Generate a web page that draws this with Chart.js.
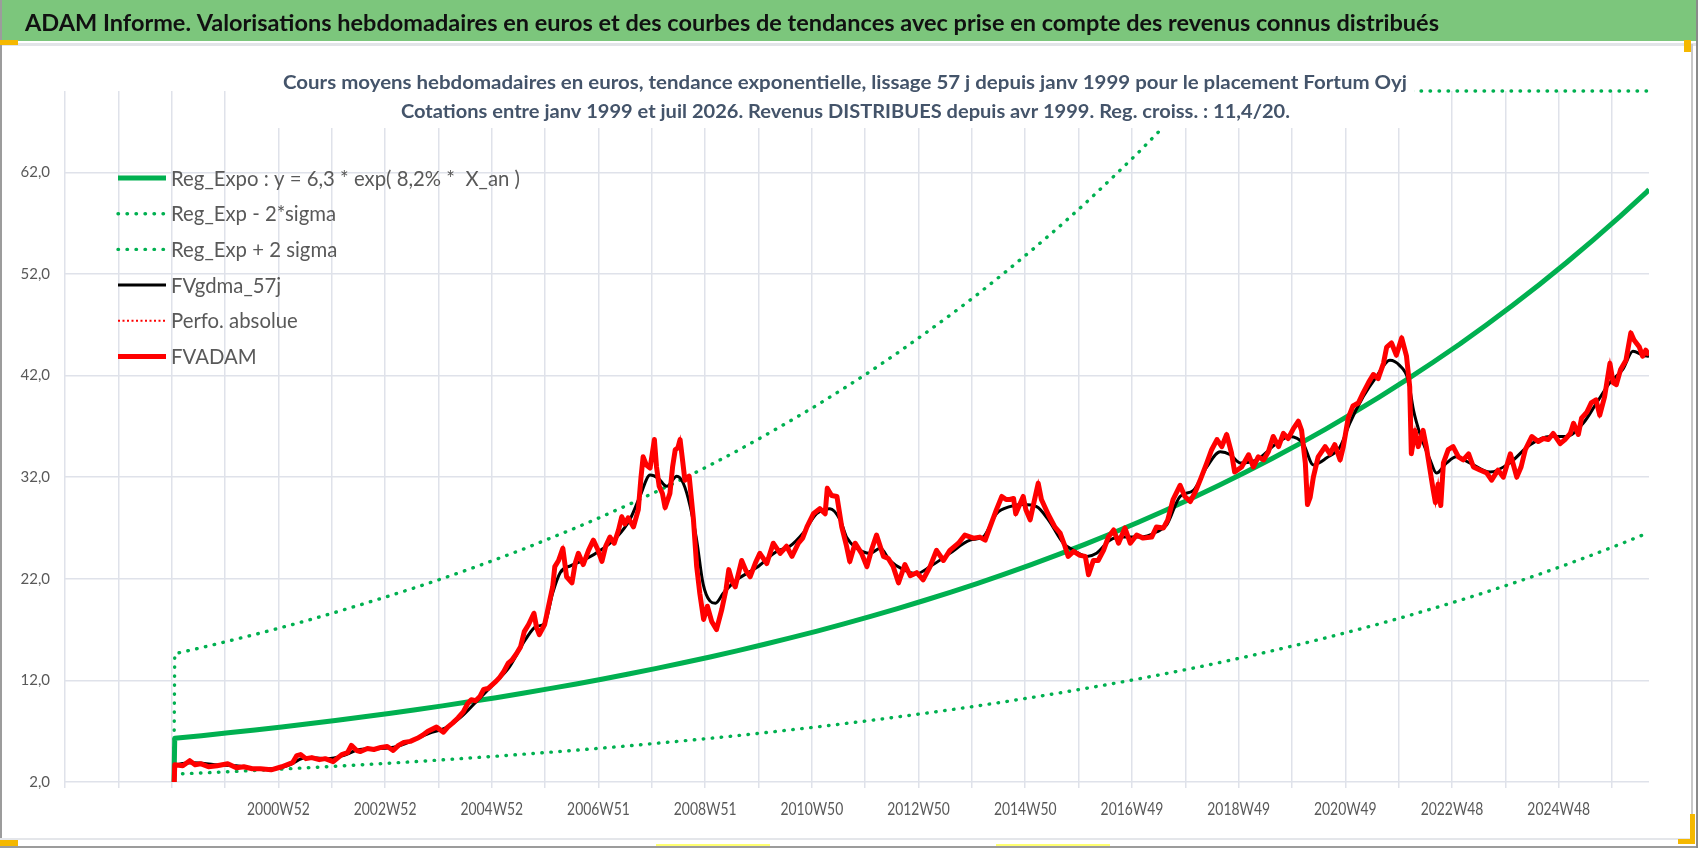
<!DOCTYPE html>
<html>
<head>
<meta charset="utf-8">
<script src="https://cdn.jsdelivr.net/npm/chart.js@4.4.1/dist/chart.umd.min.js"></script>
<style>
  html, body { margin: 0; padding: 0; background: #fff; }
  #wrap { width: 1698px; height: 848px; }
</style>
</head>
<body>
<div id="wrap"><canvas id="chart" width="1698" height="848"></canvas></div>
<script>
// Texts
const TITLE = 'ADAM Informe. Valorisations hebdomadaires en euros et des courbes de tendances avec prise en compte des revenus connus distribués';
const SUBTITLE_1 = 'Cours moyens hebdomadaires en euros, tendance exponentielle, lissage 57 j depuis janv 1999 pour le placement Fortum Oyj';
const SUBTITLE_2 = 'Cotations entre janv 1999 et juil 2026. Revenus DISTRIBUES depuis avr 1999. Reg. croiss. : 11,4/20.';

// Axis ticks (x in decimal years, one gridline every 52 weeks, one label every 2 gridlines)
const Y_TICKS = [2, 12, 22, 32, 42, 52, 62];
const X_TICK_LABELS = ['', '', '2000W52', '2002W52', '2004W52', '2006W51', '2008W51', '2010W50',
  '2012W50', '2014W50', '2016W49', '2018W49', '2020W49', '2022W48', '2024W48'];

// Regression curve and +/- 2 sigma bands (read every half year)
const REG_T = [1999.03,
  1999.05, 1999.55, 2000.05, 2000.55, 2001.05, 2001.55, 2002.05, 2002.55, 2003.05, 2003.55,
  2004.05, 2004.55, 2005.05, 2005.55, 2006.05, 2006.55, 2007.05, 2007.55, 2008.05, 2008.55,
  2009.05, 2009.55, 2010.05, 2010.55, 2011.05, 2011.55, 2012.05, 2012.55, 2013.05, 2013.55,
  2014.05, 2014.55, 2015.05, 2015.55, 2016.05, 2016.55, 2017.05, 2017.55, 2018.05, 2018.55,
  2019.05, 2019.55, 2020.05, 2020.55, 2021.05, 2021.55, 2022.05, 2022.55, 2023.05, 2023.55,
  2024.05, 2024.55, 2025.05, 2025.55, 2026.05, 2026.55,
  2026.59];
const REG_V = [0,
  6.30, 6.56, 6.84, 7.12, 7.42, 7.73, 8.06, 8.40, 8.75, 9.11,
  9.49, 9.89, 10.30, 10.73, 11.19, 11.65, 12.14, 12.65, 13.18, 13.73,
  14.30, 14.90, 15.53, 16.18, 16.85, 17.56, 18.29, 19.06, 19.86, 20.69,
  21.55, 22.46, 23.40, 24.37, 25.39, 26.46, 27.56, 28.72, 29.92, 31.17,
  32.48, 33.84, 35.25, 36.73, 38.27, 39.87, 41.54, 43.28, 45.08, 46.97,
  48.94, 50.99, 53.12, 55.35, 57.66, 60.08,
  60.30];
const LOWER_V = [0,
  2.78, 2.89, 3.01, 3.14, 3.27, 3.41, 3.55, 3.70, 3.85, 4.01,
  4.18, 4.36, 4.54, 4.73, 4.93, 5.13, 5.35, 5.57, 5.81, 6.05,
  6.30, 6.56, 6.84, 7.13, 7.42, 7.74, 8.06, 8.40, 8.75, 9.11,
  9.49, 9.89, 10.31, 10.74, 11.19, 11.66, 12.14, 12.65, 13.18, 13.73,
  14.31, 14.91, 15.53, 16.18, 16.86, 17.56, 18.30, 19.07, 19.86, 20.69,
  21.56, 22.46, 23.40, 24.38, 25.40, 26.47,
  26.56];
// upper band leaves the plot: it runs along the top edge (70) on the picture
const UPPER_V = [0,
  14.62, 15.22, 15.87, 16.52, 17.21, 17.93, 18.70, 19.49, 20.30, 21.14,
  22.02, 22.94, 23.90, 24.89, 25.96, 27.03, 28.16, 29.35, 30.58, 31.85,
  33.18, 34.57, 36.03, 37.54, 39.09, 40.74, 42.43, 44.22, 46.08, 48.00,
  50.00, 52.11, 54.29, 56.54, 58.90, 61.39, 63.94, 66.63, 69.41, 70,
  70, 70, 70, 70, 70, 70, 70, 70, 70, 70,
  70, 70, 70, 70, 70, 70,
  70];

// FVADAM weekly valuation (sampled)
const RED_T = [
  1999.03, 1999.05, 1999.2, 1999.33, 1999.43, 1999.53, 1999.68, 1999.84, 2000.04, 2000.2,
  2000.34, 2000.5, 2000.65, 2000.85, 2001.05, 2001.25, 2001.33, 2001.4, 2001.5, 2001.61,
  2001.75, 2001.86, 2002.01, 2002.17, 2002.28, 2002.35, 2002.45, 2002.52, 2002.65, 2002.77,
  2002.9, 2003.02, 2003.13, 2003.23, 2003.33, 2003.45, 2003.58, 2003.68, 2003.78, 2003.94,
  2004.07, 2004.15, 2004.24, 2004.34, 2004.44, 2004.52, 2004.59, 2004.67, 2004.75, 2004.82,
  2004.9, 2005.05, 2005.12, 2005.2, 2005.28, 2005.35, 2005.43, 2005.51, 2005.58, 2005.66,
  2005.76, 2005.81, 2005.86, 2005.96, 2006.04, 2006.11, 2006.15, 2006.22, 2006.3, 2006.37,
  2006.47, 2006.53, 2006.59, 2006.68, 2006.78, 2006.87, 2006.95, 2007.03, 2007.1, 2007.18,
  2007.26, 2007.34, 2007.4, 2007.46, 2007.52, 2007.62, 2007.71, 2007.76, 2007.8, 2007.86,
  2007.93, 2008.01, 2008.05, 2008.1, 2008.16, 2008.21, 2008.3, 2008.35, 2008.4, 2008.45,
  2008.49, 2008.54, 2008.58, 2008.66, 2008.74, 2008.8, 2008.86, 2008.93, 2009.0, 2009.08,
  2009.17, 2009.27, 2009.35, 2009.4, 2009.46, 2009.52, 2009.64, 2009.72, 2009.8, 2009.9,
  2009.98, 2010.11, 2010.23, 2010.36, 2010.48, 2010.58, 2010.7, 2010.78, 2010.86, 2010.98,
  2011.1, 2011.2, 2011.24, 2011.32, 2011.42, 2011.51, 2011.6, 2011.66, 2011.76, 2011.88,
  2011.98, 2012.07, 2012.16, 2012.29, 2012.38, 2012.47, 2012.57, 2012.69, 2012.79, 2012.91,
  2013.03, 2013.16, 2013.28, 2013.41, 2013.53, 2013.69, 2013.81, 2013.97, 2014.09, 2014.19,
  2014.28, 2014.4, 2014.5, 2014.58, 2014.65, 2014.72, 2014.76, 2014.9, 2014.95, 2015.03,
  2015.1, 2015.18, 2015.24, 2015.37, 2015.49, 2015.59, 2015.68, 2015.74, 2015.84, 2015.96,
  2016.06, 2016.12, 2016.21, 2016.3, 2016.4, 2016.49, 2016.59, 2016.68, 2016.8, 2016.9,
  2017.02, 2017.14, 2017.3, 2017.39, 2017.52, 2017.6, 2017.7, 2017.83, 2017.92, 2018.02,
  2018.12, 2018.22, 2018.33, 2018.42, 2018.52, 2018.61, 2018.7, 2018.79, 2018.85, 2018.98,
  2019.11, 2019.2, 2019.29, 2019.39, 2019.48, 2019.57, 2019.67, 2019.76, 2019.85, 2019.95,
  2020.04, 2020.1, 2020.17, 2020.21, 2020.26, 2020.32, 2020.41, 2020.54, 2020.63, 2020.72,
  2020.82, 2020.88, 2020.97, 2021.06, 2021.16, 2021.25, 2021.35, 2021.44, 2021.53, 2021.63,
  2021.69, 2021.78, 2021.87, 2021.97, 2022.06, 2022.12, 2022.15, 2022.22, 2022.28, 2022.37,
  2022.43, 2022.5, 2022.56, 2022.6, 2022.65, 2022.7, 2022.75, 2022.84, 2022.93, 2023.03,
  2023.12, 2023.22, 2023.31, 2023.43, 2023.56, 2023.65, 2023.77, 2023.87, 2024.0, 2024.12,
  2024.2, 2024.28, 2024.4, 2024.52, 2024.62, 2024.71, 2024.8, 2024.93, 2025.02, 2025.12,
  2025.18, 2025.27, 2025.33, 2025.43, 2025.51, 2025.6, 2025.67, 2025.76, 2025.86, 2025.92,
  2025.98, 2026.06, 2026.16, 2026.25, 2026.31, 2026.41, 2026.47, 2026.53, 2026.59];
const RED_V = [
  0, 3.7, 3.6, 4.1, 3.7, 3.8, 3.5, 3.6, 3.8, 3.4,
  3.5, 3.3, 3.3, 3.2, 3.5, 3.9, 4.6, 4.7, 4.3, 4.4,
  4.2, 4.3, 4.0, 4.7, 4.9, 5.6, 5.1, 5.0, 5.3, 5.2,
  5.4, 5.5, 5.1, 5.6, 5.9, 6.0, 6.3, 6.6, 7.0, 7.4,
  6.9, 7.4, 7.8, 8.3, 8.9, 9.7, 10.1, 10.0, 10.4, 11.1,
  11.2, 11.9, 12.3, 12.9, 13.7, 14.0, 14.6, 15.3, 16.8, 17.5,
  18.6, 17.2, 16.5, 17.5, 19.5, 21.2, 23.2, 23.8, 25.0, 22.2,
  21.6, 23.5, 24.5, 23.4, 24.8, 25.8, 24.9, 23.7, 25.2, 26.1,
  25.5, 26.8, 28.1, 27.4, 28.0, 27.1, 28.8, 32.0, 34.0, 33.2,
  32.9, 35.7, 33.0, 31.1, 30.4, 29.0, 30.4, 33.0, 34.7, 34.9,
  35.7, 33.5, 31.7, 32.1, 27.8, 23.2, 20.5, 18.0, 19.3, 17.8,
  17.0, 19.0, 21.0, 22.9, 21.8, 21.2, 23.8, 22.8, 22.2, 23.6,
  24.5, 23.5, 25.5, 24.5, 25.2, 24.2, 25.5, 26.0, 27.1, 28.4,
  28.9, 28.4, 30.9, 30.2, 30.1, 27.1, 25.2, 23.7, 25.5, 24.5,
  23.2, 24.9, 26.3, 24.2, 24.0, 23.2, 21.6, 23.4, 22.3, 22.6,
  21.9, 23.2, 24.8, 23.8, 24.8, 25.5, 26.3, 26.0, 26.1, 25.8,
  27.1, 28.8, 30.1, 29.8, 29.8, 29.9, 28.4, 30.1, 28.8, 27.8,
  29.5, 31.4, 29.8, 28.3, 27.1, 26.5, 25.2, 24.2, 24.7, 24.3,
  24.2, 22.4, 23.8, 23.8, 24.8, 26.1, 26.8, 25.5, 27.0, 25.5,
  26.3, 26.0, 26.1, 27.1, 27.0, 27.8, 29.8, 31.2, 30.1, 29.6,
  30.6, 31.9, 33.4, 34.7, 35.7, 35.0, 36.2, 34.4, 32.5, 33.0,
  34.2, 33.0, 34.0, 33.7, 34.5, 36.0, 35.0, 36.3, 35.8, 36.8,
  37.5, 36.6, 33.4, 29.3, 30.0, 32.0, 34.0, 35.0, 34.3, 35.2,
  33.7, 35.0, 37.8, 39.0, 39.3, 40.3, 41.3, 42.1, 41.7, 43.2,
  44.8, 45.2, 44.0, 45.7, 43.9, 40.9, 34.3, 36.6, 35.0, 36.6,
  35.0, 32.7, 30.7, 29.5, 31.3, 29.2, 33.4, 34.7, 35.0, 34.0,
  33.7, 34.3, 33.0, 32.7, 32.4, 31.7, 32.7, 32.0, 34.3, 32.0,
  33.0, 34.7, 36.0, 35.5, 35.8, 35.7, 36.3, 35.3, 35.7, 36.3,
  37.3, 36.2, 37.8, 38.4, 39.3, 39.6, 38.1, 39.9, 43.2, 41.3,
  41.1, 42.6, 43.5, 46.2, 45.5, 44.8, 43.9, 44.5, 44.0];

// FVgdma_57j smoothed curve (sampled)
const BLACK_T = [1999.03, 1999.05, 1999.4, 1999.8, 2000.2, 2000.6, 2000.9, 2001.2, 2001.5, 2001.9,
  2002.2, 2002.5, 2002.9, 2003.2, 2003.5, 2003.8, 2004.1, 2004.4, 2004.7, 2005.0,
  2005.3, 2005.6, 2005.8, 2005.96, 2006.11, 2006.25, 2006.45, 2006.68, 2007.06, 2007.31,
  2007.55, 2007.74, 2007.93, 2008.08, 2008.24, 2008.43, 2008.55, 2008.68, 2008.8, 2008.92,
  2009.05, 2009.15, 2009.3, 2009.55, 2009.92, 2010.3, 2010.54, 2010.79, 2011.04, 2011.29,
  2011.48, 2011.6, 2011.79, 2012.04, 2012.23, 2012.41, 2012.66, 2012.91, 2013.16, 2013.53,
  2013.91, 2014.15, 2014.4, 2014.65, 2014.9, 2015.15, 2015.37, 2015.65, 2015.84, 2016.09,
  2016.27, 2016.52, 2016.77, 2017.08, 2017.39, 2017.58, 2017.83, 2018.08, 2018.33, 2018.58,
  2018.77, 2018.95, 2019.26, 2019.63, 2019.88, 2020.13, 2020.32, 2020.57, 2020.82, 2021.0,
  2021.25, 2021.5, 2021.75, 2021.93, 2022.09, 2022.19, 2022.31, 2022.5, 2022.62, 2022.81,
  2022.99, 2023.24, 2023.62, 2023.99, 2024.37, 2024.74, 2025.05, 2025.36, 2025.61, 2025.86,
  2026.1, 2026.29, 2026.48, 2026.59];
const BLACK_V = [0, 3.6, 3.9, 3.7, 3.6, 3.3, 3.3, 3.7, 4.4, 4.3,
  4.6, 5.2, 5.3, 5.5, 6.1, 6.8, 7.3, 8.4, 10.0, 11.6,
  13.3, 16.0, 17.3, 17.6, 20.6, 22.6, 23.3, 23.8, 25.0, 26.1,
  27.8, 30.1, 32.2, 31.9, 31.1, 32.1, 31.4, 29.1, 25.8, 21.5,
  19.8, 19.6, 20.6, 21.9, 23.1, 24.7, 25.2, 26.5, 28.4, 28.9,
  27.8, 26.1, 25.0, 24.5, 25.0, 23.8, 22.9, 22.5, 23.2, 24.5,
  25.8, 26.1, 28.4, 29.1, 29.3, 29.1, 27.8, 25.5, 24.8, 24.2,
  24.5, 25.8, 26.1, 26.1, 26.6, 27.3, 30.1, 30.7, 33.0, 34.5,
  34.2, 33.4, 33.7, 35.3, 36.0, 35.3, 33.2, 33.9, 35.0, 37.3,
  39.9, 41.9, 43.5, 43.0, 41.6, 38.6, 36.3, 33.7, 32.4, 33.4,
  34.0, 33.4, 32.5, 33.4, 35.2, 36.0, 36.0, 37.3, 39.3, 41.3,
  42.6, 44.4, 44.0, 43.9];

const GREEN = '#00b050';
const RED = '#ff0000';
const GRID = '#dfe2ea';
const TICK_COLOR = '#595959';
const FONT = 'Lato';

const Y_MIN = 2;
const Y_MAX = 70;
const X_MIN = 1997;
const X_MAX = 2026.59;
const WEEKS_PER_YEAR = 52.18;

function points(ts, vs) {
    return ts.map((t, i) => ({ x: t, y: vs[i] }));
}

function gridValue(k) {
    return X_MIN + k * 52 / WEEKS_PER_YEAR;
}

// Draw a text squeezed to a given width, keeping the font height
function fitText(ctx, text, x, baseline, width, font, color) {
    ctx.save();
    ctx.font = font;
    ctx.fillStyle = color;
    ctx.textAlign = 'left';
    ctx.textBaseline = 'alphabetic';
    const w = ctx.measureText(text).width;
    ctx.translate(x, baseline);
    ctx.scale(width / w, 1);
    ctx.fillText(text, 0, 0);
    ctx.restore();
}

function textWidth(ctx, text, font) {
    ctx.save();
    ctx.font = font;
    const w = ctx.measureText(text).width;
    ctx.restore();
    return w;
}

const datasets = [
    {
        label: 'Reg_Expo : y = 6,3 * exp( 8,2% *  X_an )',
        data: points(REG_T, REG_V),
        borderColor: GREEN, borderWidth: 5, borderJoinStyle: 'round', order: 5
    },
    {
        label: 'Reg_Exp - 2*sigma',
        data: points(REG_T, LOWER_V),
        borderColor: GREEN, borderWidth: 3.4, borderDash: [0.5, 8.5], borderCapStyle: 'round', order: 4
    },
    {
        label: 'Reg_Exp + 2 sigma',
        data: points(REG_T, UPPER_V),
        borderColor: GREEN, borderWidth: 3.4, borderDash: [0.5, 8.5], borderCapStyle: 'round', order: 3,
        clip: { left: 0, top: 4, right: 0, bottom: 0 }
    },
    {
        label: 'FVgdma_57j',
        data: points(BLACK_T, BLACK_V),
        borderColor: '#000000', borderWidth: 3, cubicInterpolationMode: 'monotone', order: 2
    },
    {
        label: 'Perfo. absolue',
        data: points(RED_T, RED_V),
        borderColor: RED, borderWidth: 2, borderDash: [2, 2.5], order: 1
    },
    {
        label: 'FVADAM',
        data: points(RED_T, RED_V),
        borderColor: RED, borderWidth: 5, borderJoinStyle: 'round', order: 0
    }
];
datasets.forEach(d => { d.pointRadius = 0; d.pointHoverRadius = 0; d.fill = false; });

// Page frame, green title bar, borders
const framePlugin = {
    id: 'frame',
    beforeDraw(chart) {
        const ctx = chart.ctx;
        ctx.save();
        ctx.fillStyle = '#ffffff';
        ctx.fillRect(0, 0, 1698, 848);
        ctx.fillStyle = '#7cc67c';
        ctx.fillRect(0, 0, 1698, 41);
        ctx.fillStyle = '#e2e4e8';
        ctx.fillRect(0, 43, 1698, 3);
        ctx.fillStyle = '#9c9c9c';
        ctx.fillRect(0, 0, 2, 848);
        ctx.fillRect(0, 846, 1698, 2);
        ctx.fillStyle = '#e4e6ea';
        ctx.fillRect(0, 838, 1690, 2);
        ctx.fillStyle = '#c8c8c8';
        ctx.fillRect(1691, 44, 2, 800);
        ctx.fillStyle = '#8a8a8a';
        ctx.fillRect(1696, 0, 2, 848);
        // selection handles
        ctx.fillStyle = '#f5b800';
        ctx.fillRect(0, 40, 18, 5);
        ctx.fillRect(0, 840, 18, 6);
        ctx.fillRect(1684, 40, 7, 12);
        ctx.fillRect(1690, 814, 5, 30);
        ctx.fillRect(1678, 839, 17, 5);
        ctx.fillStyle = '#ffff70';
        ctx.fillRect(656, 844, 114, 2);
        ctx.fillRect(996, 844, 114, 2);
        ctx.restore();
        fitText(ctx, TITLE, 25, 31, 1414, 'bold 22px ' + FONT, '#111111');
    }
};

// Subtitle box over the plot, x tick labels and the in-plot legend
const overlayPlugin = {
    id: 'overlay',
    afterDraw(chart) {
        const ctx = chart.ctx;
        ctx.save();
        ctx.fillStyle = '#ffffff';
        ctx.fillRect(276, 50, 1138, 78);
        ctx.restore();
        fitText(ctx, SUBTITLE_1, 283, 89, 1124, 'bold 19.5px ' + FONT, '#44546a');
        fitText(ctx, SUBTITLE_2, 401, 118, 889, 'bold 19.5px ' + FONT, '#44546a');

        // x tick labels, narrow like the original
        const xScale = chart.scales.x;
        const tickFont = '17.5px ' + FONT;
        const tickSqueeze = 62.7 / textWidth(ctx, '2000W52', tickFont);
        X_TICK_LABELS.forEach((lab, j) => {
            if (!lab) return;
            const px = xScale.getPixelForValue(gridValue(2 * j));
            const w = textWidth(ctx, lab, tickFont) * tickSqueeze;
            fitText(ctx, lab, px - w / 2, 814.5, w, tickFont, TICK_COLOR);
        });

        // legend
        const legendFont = '21px ' + FONT;
        const squeeze = 349 / textWidth(ctx, datasets[0].label, legendFont);
        datasets.forEach((d, i) => {
            const y = 178 + i * 35.7;
            ctx.save();
            ctx.strokeStyle = d.borderColor;
            ctx.lineWidth = d.borderWidth;
            ctx.lineCap = d.borderCapStyle || 'butt';
            ctx.setLineDash(d.borderDash || []);
            ctx.beginPath();
            ctx.moveTo(118, y);
            ctx.lineTo(166, y);
            ctx.stroke();
            ctx.restore();
            const w = textWidth(ctx, d.label, legendFont) * squeeze;
            fitText(ctx, d.label, 171, y + 7.5, w, legendFont, '#595959');
        });
    }
};

new Chart(document.getElementById('chart'), {
    type: 'line',
    data: { datasets },
    options: {
        responsive: false,
        devicePixelRatio: 1,
        animation: false,
        layout: { padding: { left: 0, top: 91, right: 49, bottom: 0 } },
        plugins: {
            legend: { display: false },
            tooltip: { enabled: false },
            title: { display: false }
        },
        scales: {
            x: {
                type: 'linear',
                min: X_MIN,
                max: X_MAX,
                afterBuildTicks: scale => {
                    const ticks = [];
                    for (let k = 0; k < 30; k++) {
                        ticks.push({ value: gridValue(k) });
                    }
                    scale.ticks = ticks;
                },
                afterFit: scale => { scale.height = 66; },
                grid: { color: GRID, lineWidth: 1.5, tickLength: 6, drawTicks: true },
                border: { display: false },
                ticks: { display: false, autoSkip: false, maxRotation: 0 }
            },
            y: {
                min: Y_MIN,
                max: Y_MAX,
                afterBuildTicks: scale => { scale.ticks = Y_TICKS.map(v => ({ value: v })); },
                afterFit: scale => { scale.width = 65; },
                grid: { color: GRID, lineWidth: 1.5, drawTicks: false },
                border: { display: false },
                ticks: {
                    padding: 15,
                    color: TICK_COLOR,
                    font: { family: FONT, size: 15 },
                    callback: v => v.toFixed(1).replace('.', ',')
                }
            }
        }
    },
    plugins: [framePlugin, overlayPlugin]
});
</script>
</body>
</html>
